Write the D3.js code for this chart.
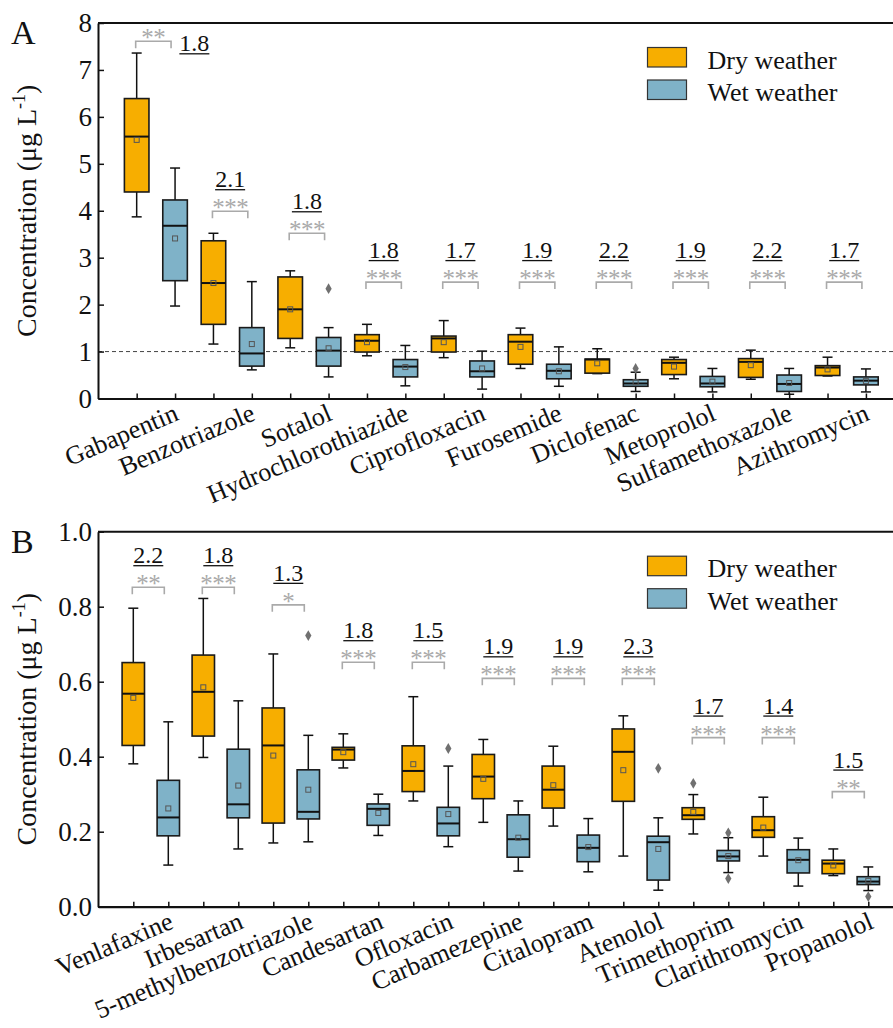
<!DOCTYPE html>
<html>
<head>
<meta charset="utf-8">
<script src="https://cdn.jsdelivr.net/npm/d3@7"></script>
<style>
  body { margin: 0; background: #fff; }
  svg { display: block; font-family: "Liberation Serif", "Times New Roman", serif; }
</style>
</head>
<body>
<svg id="chart" width="893" height="1028"></svg>
<script>
// Series
const seriesNames = ["Dry weather", "Wet weather"];
const seriesColors = ["#F7AE00", "#7FB2C8"];

// Panel A (µg/L) - each box: [lower whisker, Q1, median, Q3, upper whisker, mean]
const compoundsA = ["Gabapentin", "Benzotriazole", "Sotalol", "Hydrochlorothiazide", "Ciprofloxacin",
  "Furosemide", "Diclofenac", "Metoprolol", "Sulfamethoxazole", "Azithromycin"];
const dryA = [
  [3.87, 4.40, 5.58, 6.39, 7.36, 5.51],
  [1.16, 1.58, 2.46, 3.36, 3.52, 2.46],
  [1.08, 1.28, 1.90, 2.59, 2.72, 1.90],
  [0.91, 0.99, 1.23, 1.36, 1.58, 1.20],
  [0.87, 0.99, 1.28, 1.33, 1.66, 1.20],
  [0.64, 0.73, 1.21, 1.36, 1.50, 1.10],
  [0.53, 0.54, 0.83, 0.84, 1.06, 0.75],
  [0.42, 0.51, 0.76, 0.83, 0.88, 0.68],
  [0.41, 0.45, 0.78, 0.85, 1.03, 0.71],
  [0.48, 0.49, 0.66, 0.70, 0.88, 0.62]
];
const wetA = [
  [1.97, 2.51, 3.68, 4.23, 4.91, 3.41],
  [0.61, 0.69, 0.96, 1.51, 2.49, 1.16],
  [0.46, 0.69, 1.02, 1.30, 1.51, 1.07],
  [0.27, 0.46, 0.68, 0.83, 1.13, 0.67],
  [0.20, 0.46, 0.58, 0.80, 1.01, 0.64],
  [0.26, 0.42, 0.59, 0.73, 1.10, 0.58],
  [0.15, 0.26, 0.32, 0.40, 0.56, 0.35],
  [0.14, 0.25, 0.32, 0.47, 0.64, 0.36],
  [0.09, 0.15, 0.31, 0.50, 0.64, 0.33],
  [0.14, 0.29, 0.38, 0.46, 0.63, 0.37]
];
const outliersA = [["Sotalol", 1, 2.34], ["Diclofenac", 1, 0.64]];
const ratiosA = ["1.8", "2.1", "1.8", "1.8", "1.7", "1.9", "2.2", "1.9", "2.2", "1.7"];
const starsA = ["**", "***", "***", "***", "***", "***", "***", "***", "***", "***"];
const bracketA = [7.61, 3.99, 3.52, 2.48, 2.48, 2.48, 2.48, 2.48, 2.48, 2.48];
const ratioBesideA = ["Gabapentin"];
const ticksA = [0, 1, 2, 3, 4, 5, 6, 7, 8];

// Panel B (µg/L)
const compoundsB = ["Venlafaxine", "Irbesartan", "5-methylbenzotriazole", "Candesartan", "Ofloxacin",
  "Carbamezepine", "Citalopram", "Atenolol", "Trimethoprim", "Clarithromycin", "Propanolol"];
const dryB = [
  [0.381, 0.430, 0.568, 0.651, 0.796, 0.557],
  [0.398, 0.455, 0.573, 0.671, 0.822, 0.585],
  [0.170, 0.223, 0.430, 0.530, 0.674, 0.403],
  [0.370, 0.391, 0.419, 0.425, 0.461, 0.412],
  [0.282, 0.307, 0.362, 0.429, 0.560, 0.380],
  [0.225, 0.288, 0.347, 0.406, 0.446, 0.341],
  [0.215, 0.263, 0.312, 0.375, 0.428, 0.324],
  [0.135, 0.281, 0.413, 0.474, 0.509, 0.364],
  [0.194, 0.233, 0.244, 0.264, 0.299, 0.253],
  [0.135, 0.185, 0.204, 0.240, 0.292, 0.211],
  [0.083, 0.088, 0.115, 0.124, 0.154, 0.110]
];
const wetB = [
  [0.111, 0.189, 0.238, 0.337, 0.493, 0.262],
  [0.154, 0.237, 0.273, 0.420, 0.549, 0.323],
  [0.173, 0.234, 0.253, 0.365, 0.457, 0.312],
  [0.190, 0.217, 0.261, 0.274, 0.300, 0.250],
  [0.160, 0.189, 0.222, 0.265, 0.375, 0.247],
  [0.095, 0.132, 0.180, 0.245, 0.282, 0.184],
  [0.093, 0.120, 0.157, 0.191, 0.235, 0.159],
  [0.044, 0.071, 0.172, 0.188, 0.237, 0.154],
  [0.091, 0.122, 0.134, 0.150, 0.184, 0.135],
  [0.055, 0.090, 0.125, 0.152, 0.183, 0.124],
  [0.043, 0.059, 0.067, 0.080, 0.106, 0.069]
];
const outliersB = [["5-methylbenzotriazole", 1, 0.723], ["Ofloxacin", 1, 0.422], ["Atenolol", 1, 0.369],
  ["Trimethoprim", 0, 0.329], ["Trimethoprim", 1, 0.197], ["Trimethoprim", 1, 0.075], ["Propanolol", 1, 0.027]];
const ratiosB = ["2.2", "1.8", "1.3", "1.8", "1.5", "1.9", "1.9", "2.3", "1.7", "1.4", "1.5"];
const starsB = ["**", "***", "*", "***", "***", "***", "***", "***", "***", "***", "**"];
const bracketB = [0.852, 0.852, 0.805, 0.652, 0.652, 0.609, 0.609, 0.609, 0.451, 0.451, 0.307];
const ticksB = [0, 0.2, 0.4, 0.6, 0.8, 1.0];

const svg = d3.select("#chart");

function drawPanel(p) {
  const g = svg.append("g");
  const n = p.names.length;
  const left = 98;

  const x = d3.scaleLinear().domain([0, 2 * n + 1]).range([98.3, p.right]);
  const y = d3.scaleLinear().domain(p.yDomain).range([p.bottom, p.top]);
  const slotPx = x(1) - x(0);
  const halfBox = slotPx * 0.32;
  const halfCap = 5;

  // reference line
  if (p.refLine != null) {
    g.append("line")
      .attr("x1", left).attr("x2", 893)
      .attr("y1", y(p.refLine)).attr("y2", y(p.refLine))
      .attr("stroke", "#444").attr("stroke-width", 1)
      .attr("stroke-dasharray", "4,3");
  }

  // boxes
  const boxes = [];
  p.names.forEach((name, i) => {
    [p.dry[i], p.wet[i]].forEach((s, j) => {
      boxes.push({ name, j, k: 2 * i + 1 + j, lo: s[0], q1: s[1], med: s[2], q3: s[3], hi: s[4], mean: s[5] });
    });
  });

  const bg = g.selectAll("g.box").data(boxes).enter().append("g").attr("class", "box");

  bg.append("line")
    .attr("x1", d => x(d.k)).attr("x2", d => x(d.k))
    .attr("y1", d => y(d.hi)).attr("y2", d => y(d.q3))
    .attr("stroke", "#111").attr("stroke-width", 1.5);
  bg.append("line")
    .attr("x1", d => x(d.k)).attr("x2", d => x(d.k))
    .attr("y1", d => y(d.q1)).attr("y2", d => y(d.lo))
    .attr("stroke", "#111").attr("stroke-width", 1.5);
  ["hi", "lo"].forEach(key => {
    bg.append("line")
      .attr("x1", d => x(d.k) - halfCap).attr("x2", d => x(d.k) + halfCap)
      .attr("y1", d => y(d[key])).attr("y2", d => y(d[key]))
      .attr("stroke", "#111").attr("stroke-width", 1.5);
  });
  bg.append("rect")
    .attr("x", d => x(d.k) - halfBox)
    .attr("width", halfBox * 2)
    .attr("y", d => y(d.q3))
    .attr("height", d => y(d.q1) - y(d.q3))
    .attr("fill", d => seriesColors[d.j])
    .attr("stroke", "#1a1a1a").attr("stroke-width", 1.6);
  bg.append("line")
    .attr("x1", d => x(d.k) - halfBox).attr("x2", d => x(d.k) + halfBox)
    .attr("y1", d => y(d.med)).attr("y2", d => y(d.med))
    .attr("stroke", "#111").attr("stroke-width", 2);
  bg.append("rect")
    .attr("x", d => x(d.k) - 2.5).attr("y", d => y(d.mean) - 2.5)
    .attr("width", 5).attr("height", 5)
    .attr("fill", "none").attr("stroke", "#555").attr("stroke-width", 1);

  // outliers
  g.selectAll("path.outlier").data(p.outliers).enter().append("path")
    .attr("class", "outlier")
    .attr("d", d3.symbol(d3.symbolDiamond).size(34))
    .attr("transform", d => `translate(${x(2 * p.names.indexOf(d[0]) + 1 + d[1])},${y(d[2])})`)
    .attr("fill", "#707070");

  // significance brackets, stars and ratios
  p.names.forEach((name, i) => {
    const x1 = x(2 * i + 1) - 1, x2 = x(2 * i + 2) - 4;
    const by = y(p.bracket[i]);
    const cx = (x1 + x2) / 2;
    g.append("path")
      .attr("d", `M${x1},${by + 7}V${by}H${x2}V${by + 7}`)
      .attr("fill", "none").attr("stroke", "#aaa").attr("stroke-width", 1.6);
    g.append("text")
      .attr("x", cx).attr("y", by + 5)
      .attr("text-anchor", "middle")
      .attr("font-size", 25).attr("letter-spacing", -0.5).attr("fill", "#aaa")
      .text(p.stars[i]);

    const beside = p.beside.includes(name);
    const tx = beside ? cx + 41 : cx;
    const ty = beside ? by + 10 : by - 24;
    const t = g.append("text")
      .attr("x", tx).attr("y", ty)
      .attr("text-anchor", "middle")
      .attr("font-size", 24).attr("fill", "#111")
      .text(p.ratios[i]);
    const w = t.node().getComputedTextLength();
    g.append("line")
      .attr("x1", tx - w / 2).attr("x2", tx + w / 2)
      .attr("y1", ty + 2.5).attr("y2", ty + 2.5)
      .attr("stroke", "#111").attr("stroke-width", 1.3);
  });

  // axes
  const yAxis = d3.axisLeft(y).tickValues(p.ticks).tickFormat(p.format)
    .tickSizeInner(-6).tickSizeOuter(0).tickPadding(6);
  const ya = g.append("g").attr("transform", `translate(${left},0)`).call(yAxis);
  ya.select(".domain").attr("stroke", "#111").attr("stroke-width", 2);
  ya.selectAll(".tick line").attr("stroke", "#111").attr("stroke-width", 1.5);
  ya.selectAll(".tick text").attr("font-size", 27).attr("fill", "#111")
    .attr("font-family", "Liberation Serif, Times New Roman, serif");

  const xAxis = d3.axisBottom(x).tickValues(d3.range(1, 2 * n + 1)).tickFormat("")
    .tickSizeInner(-5).tickSizeOuter(0);
  const xa = g.append("g").attr("transform", `translate(0,${p.bottom})`).call(xAxis);
  xa.select(".domain").attr("stroke", "#111").attr("stroke-width", 2.2);
  xa.selectAll(".tick line").attr("stroke", "#111").attr("stroke-width", 1.5);

  // top frame
  g.append("line")
    .attr("x1", left).attr("x2", 893)
    .attr("y1", p.top).attr("y2", p.top)
    .attr("stroke", "#111").attr("stroke-width", 2);

  // category labels
  g.selectAll("text.cat").data(p.names).enter().append("text")
    .attr("class", "cat")
    .attr("text-anchor", "end")
    .attr("font-size", 26).attr("fill", "#111")
    .attr("transform", (d, i) => `translate(${(x(2 * i + 1) + x(2 * i + 2)) / 2 + 24},${p.bottom + 21}) rotate(-23)`)
    .text(d => d);

  // y title
  const title = g.append("text")
    .attr("transform", `translate(36,${(p.top + p.bottom) / 2}) rotate(-90)`)
    .attr("text-anchor", "middle")
    .attr("font-size", 28).attr("fill", "#111");
  title.append("tspan").text("Concentration (μg L");
  title.append("tspan").attr("font-size", 18).attr("dy", -11).text("-1");
  title.append("tspan").attr("dy", 11).text(")");

  // panel letter
  g.append("text")
    .attr("x", 11).attr("y", p.top + 21)
    .attr("font-size", 34).attr("fill", "#111")
    .text(p.letter);

  // legend
  seriesNames.forEach((s, j) => {
    const ly = p.top + 24.5 + j * 32.5;
    g.append("rect")
      .attr("x", 647.5).attr("y", ly)
      .attr("width", 39).attr("height", 19.5)
      .attr("fill", seriesColors[j]).attr("stroke", "#333").attr("stroke-width", 1.2);
    g.append("text")
      .attr("x", 707.5).attr("y", ly + 21)
      .attr("font-size", 26).attr("fill", "#111")
      .text(s);
  });
}

drawPanel({
  letter: "A", names: compoundsA, dry: dryA, wet: wetA, outliers: outliersA,
  ratios: ratiosA, stars: starsA, bracket: bracketA, beside: ratioBesideA,
  ticks: ticksA, format: d3.format("d"), yDomain: [0, 8], refLine: 1,
  top: 23, bottom: 398.5, right: 904.3
});

drawPanel({
  letter: "B", names: compoundsB, dry: dryB, wet: wetB, outliers: outliersB,
  ratios: ratiosB, stars: starsB, bracket: bracketB, beside: [],
  ticks: ticksB, format: d3.format(".1f"), yDomain: [0, 1], refLine: null,
  top: 531.7, bottom: 906.7, right: 903.3
});
</script>
</body>
</html>
